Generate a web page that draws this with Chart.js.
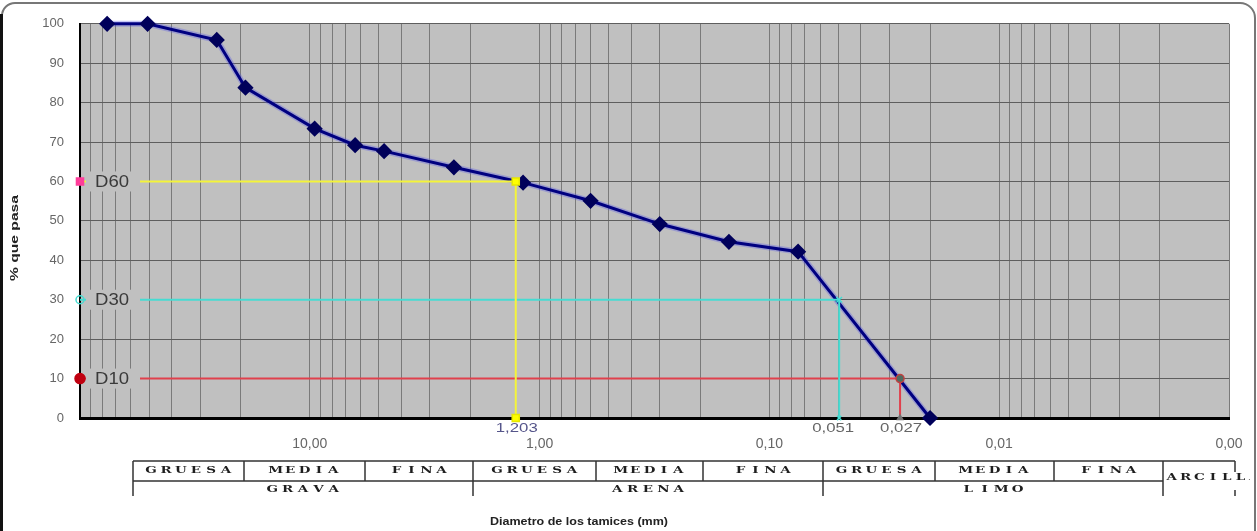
<!DOCTYPE html>
<html>
<head>
<meta charset="utf-8">
<script src="https://cdn.jsdelivr.net/npm/chart.js@4.4.1/dist/chart.umd.min.js"></script>
<style>
  html, body { margin: 0; padding: 0; background: #fff; }
  #wrap { position: relative; width: 1257px; height: 531px; }
</style>
</head>
<body>
<div id="wrap"><canvas id="curva"></canvas></div>
<script>
/* Curva granulometrica */
const diametros = [76.2, 50.8, 25.4, 19.05, 9.525, 6.35, 4.75, 2.36, 1.18, 0.6, 0.3, 0.15, 0.075, 0.02];
const pasa = [100, 100, 95.9, 83.8, 73.4, 69.2, 67.7, 63.6, 59.7, 55.1, 49.2, 44.7, 42.2, 0];

const dNombres = ['D60', 'D30', 'D10'];
const dPorcentaje = [60, 30, 10];
const dDiametro = [1.27, 0.0497, 0.027];
const dEtiqueta = ['1,203', '0,051', '0,027'];

const xMin = 0.001, xMax = 100;
const yMin = 0, yMax = 100, yPaso = 10;

const fila1 = ['GRUESA', 'MEDIA', 'FINA', 'GRUESA', 'MEDIA', 'FINA', 'GRUESA', 'MEDIA', 'FINA'];
const fila2 = ['GRAVA', 'ARENA', 'LIMO'];

// layout of the classification table under the axis (px)
const tablaX = [133, 244, 365, 473, 596, 703, 823, 935, 1054, 1163, 1235];
const tablaY = [461, 481, 496];
const anchoFila1 = [90, 72, 60, 90, 72, 60, 90, 72, 60];
const anchoFila2 = [77, 77, 66];

const FONDO = '#c0c0c0';

// log grid: 1..9 x 10^n
const ticksLog = [];
for (let e = -3; e <= 1; e++) {
    for (let m = 1; m <= 9; m++) ticksLog.push(Number((m * Math.pow(10, e)).toPrecision(4)));
}
ticksLog.push(100);

const esPotencia = v => Math.abs(Math.log10(v) - Math.round(Math.log10(v))) < 1e-6;
const fmt = v => v.toFixed(2).replace('.', ',');

const dEstilos = [
    { linea: '#f4f43a', forma: ['rect', 'rect', 'rect'], relleno: ['#ff3d9a', '#ffff00', '#ffff00'], borde: ['#ff3d9a', '#e8e800', '#e8e800'], radio: [5, 5, 5] },
    { linea: '#45dcd2', forma: ['circle', 'crossRot', 'crossRot'], relleno: ['rgba(0,0,0,0)', '#45dcd2', '#45dcd2'], borde: ['#45dcd2', '#45dcd2', '#45dcd2'], radio: [4, 4, 3] },
    { linea: '#e0404c', forma: ['circle', 'circle', 'triangle'], relleno: ['#c00010', '#4f6b60', '#707070'], borde: ['#c00010', '#c04040', '#707070'], radio: [5, 4, 3] }
];

function textoAncho(ctx, txt, x, y, ancho, align) {
    const w = ctx.measureText(txt).width;
    ctx.save();
    ctx.translate(x, y);
    ctx.scale(ancho / w, 1);
    ctx.textAlign = align || 'center';
    ctx.fillText(txt, 0, 0);
    ctx.restore();
}

// wide letter-spaced caps, like the table in the sheet
function textoEspaciado(ctx, txt, x0, y, ancho) {
    const paso = ancho / txt.length;
    ctx.textAlign = 'center';
    for (let i = 0; i < txt.length; i++) {
        ctx.save();
        ctx.translate(x0 + (i + 0.5) * paso, y);
        ctx.scale(1.35, 1);
        ctx.fillText(txt[i], 0, 0);
        ctx.restore();
    }
}

const decoracion = {
    id: 'decoracion',
    beforeDraw(chart) {
        const { ctx, chartArea: a } = chart;
        ctx.save();
        ctx.fillStyle = '#fff';
        ctx.fillRect(0, 0, chart.width, chart.height);
        ctx.fillStyle = FONDO;
        ctx.fillRect(a.left, a.top, a.right - a.left, a.bottom - a.top);
        ctx.restore();
    },
    afterDatasetsDraw(chart) {
        const { ctx, scales: { y } } = chart;
        ctx.save();
        ctx.textBaseline = 'middle';
        dNombres.forEach((n, i) => {
            const py = y.getPixelForValue(dPorcentaje[i]);
            ctx.fillStyle = FONDO;
            ctx.fillRect(86, py - 10, 54, 20);
            ctx.fillStyle = '#3a3a3a';
            ctx.font = '16px Arial, "Liberation Sans", sans-serif';
            textoAncho(ctx, n, 95, py + 1, 34, 'left');
        });
        ctx.restore();
    },
    afterDraw(chart) {
        const { ctx, scales: { x } } = chart;
        ctx.save();
        ctx.textBaseline = 'middle';

        // D values under the axis
        ctx.font = '13px Arial, "Liberation Sans", sans-serif';
        dEtiqueta.forEach((t, i) => {
            ctx.fillStyle = i === 0 ? '#55558a' : '#666';
            textoAncho(ctx, t, x.getPixelForValue(dDiametro[i]) + (i === 1 ? -6 : 1), 428, 42);
        });

        // axis titles
        ctx.fillStyle = '#222';
        ctx.font = 'bold 11px Arial, "Liberation Sans", sans-serif';
        textoAncho(ctx, 'Diametro de los tamices (mm)', 579, 522, 178);
        ctx.save();
        ctx.translate(15, 238);
        ctx.rotate(-Math.PI / 2);
        textoAncho(ctx, '% que pasa', 0, 0, 86);
        ctx.restore();

        // classification table
        ctx.strokeStyle = '#333';
        ctx.lineWidth = 1.5;
        ctx.beginPath();
        ctx.moveTo(tablaX[0], tablaY[0]); ctx.lineTo(tablaX[10], tablaY[0]);
        ctx.moveTo(tablaX[0], tablaY[1]); ctx.lineTo(tablaX[9], tablaY[1]);
        [0, 3, 6, 9].forEach(i => { ctx.moveTo(tablaX[i], tablaY[0]); ctx.lineTo(tablaX[i], tablaY[2]); });
        [1, 2, 4, 5, 7, 8].forEach(i => { ctx.moveTo(tablaX[i], tablaY[0]); ctx.lineTo(tablaX[i], tablaY[1]); });
        ctx.moveTo(tablaX[10], tablaY[0]); ctx.lineTo(tablaX[10], tablaY[0] + 11);
        ctx.moveTo(tablaX[10], tablaY[2] - 6); ctx.lineTo(tablaX[10], tablaY[2]);
        ctx.stroke();

        ctx.fillStyle = '#1e1e1e';
        ctx.font = 'bold 10px "DejaVu Serif", serif';
        fila1.forEach((t, i) => {
            const cx = (tablaX[i] + tablaX[i + 1]) / 2;
            textoEspaciado(ctx, t, cx - anchoFila1[i] / 2, 470, anchoFila1[i]);
        });
        fila2.forEach((t, i) => {
            const cx = (tablaX[i * 3] + tablaX[i * 3 + 3]) / 2;
            textoEspaciado(ctx, t, cx - anchoFila2[i] / 2, 489, anchoFila2[i]);
        });
        ctx.save();
        ctx.beginPath();
        ctx.rect(tablaX[9] + 1, tablaY[0] + 2, 86, 30);
        ctx.clip();
        textoEspaciado(ctx, 'ARCILLA', tablaX[9] + 2, 477, 96);
        ctx.restore();

        // outer frame
        ctx.strokeStyle = '#777';
        ctx.lineWidth = 2;
        ctx.beginPath();
        ctx.moveTo(2, 600);
        ctx.lineTo(2, 16);
        ctx.arcTo(2, 3, 15, 3, 13);
        ctx.lineTo(1240, 3);
        ctx.arcTo(1255, 3, 1255, 18, 15);
        ctx.lineTo(1255, 600);
        ctx.stroke();
        ctx.strokeStyle = '#111';
        ctx.lineWidth = 3;
        ctx.beginPath();
        ctx.moveTo(1.5, 14);
        ctx.lineTo(1.5, 531);
        ctx.stroke();
        ctx.restore();
    }
};

const datasets = dNombres.map((n, i) => ({
    label: n,
    data: [{ x: xMax, y: dPorcentaje[i] }, { x: dDiametro[i], y: dPorcentaje[i] }, { x: dDiametro[i], y: 0 }],
    borderColor: dEstilos[i].linea,
    borderWidth: 2,
    pointStyle: dEstilos[i].forma,
    pointRadius: dEstilos[i].radio,
    pointBackgroundColor: dEstilos[i].relleno,
    pointBorderColor: dEstilos[i].borde,
    pointBorderWidth: 1.5,
    clip: false
}));

datasets.push({
    label: '% que pasa',
    data: diametros.map((d, i) => ({ x: d, y: pasa[i] })),
    borderColor: '#000080',
    borderWidth: 3,
    pointStyle: 'rectRot',
    pointRadius: 6,
    pointBackgroundColor: '#00005a',
    pointBorderColor: '#00005a',
    clip: false
});
datasets.push({
    label: 'halo',
    data: diametros.map((d, i) => ({ x: d, y: pasa[i] })),
    borderColor: 'rgba(90,90,230,0.35)',
    borderWidth: 6,
    pointRadius: 0,
    clip: false
});

new Chart(document.getElementById('curva'), {
    type: 'line',
    data: { datasets },
    options: {
        responsive: true,
        maintainAspectRatio: false,
        animation: false,
        layout: { padding: { top: 21, right: 28, left: 0, bottom: 0 } },
        plugins: { legend: { display: false }, tooltip: { enabled: false } },
        elements: { line: { tension: 0 } },
        scales: {
            x: {
                type: 'logarithmic',
                reverse: true,
                min: xMin,
                max: xMax,
                afterBuildTicks: s => { s.ticks = ticksLog.map(v => ({ value: v })); },
                afterFit: s => { s.height = 113; },
                grid: { color: '#7a7a7a', lineWidth: 1, drawTicks: false },
                border: { color: '#000', width: 3 },
                ticks: {
                    autoSkip: false,
                    maxRotation: 0,
                    minRotation: 0,
                    padding: 18,
                    color: '#666',
                    font: { family: 'Arial, "Liberation Sans", sans-serif', size: 14 },
                    callback: v => (esPotencia(v) && v < xMax) ? fmt(v) : ''
                }
            },
            y: {
                min: yMin,
                max: yMax,
                afterFit: s => { s.width = 80; },
                grid: { color: '#5e5e5e', lineWidth: 1, drawTicks: false },
                border: { color: '#000', width: 2 },
                ticks: {
                    stepSize: yPaso,
                    padding: 16,
                    color: '#666',
                    font: { family: 'Arial, "Liberation Sans", sans-serif', size: 13 }
                }
            }
        }
    },
    plugins: [decoracion]
});
</script>
</body>
</html>
